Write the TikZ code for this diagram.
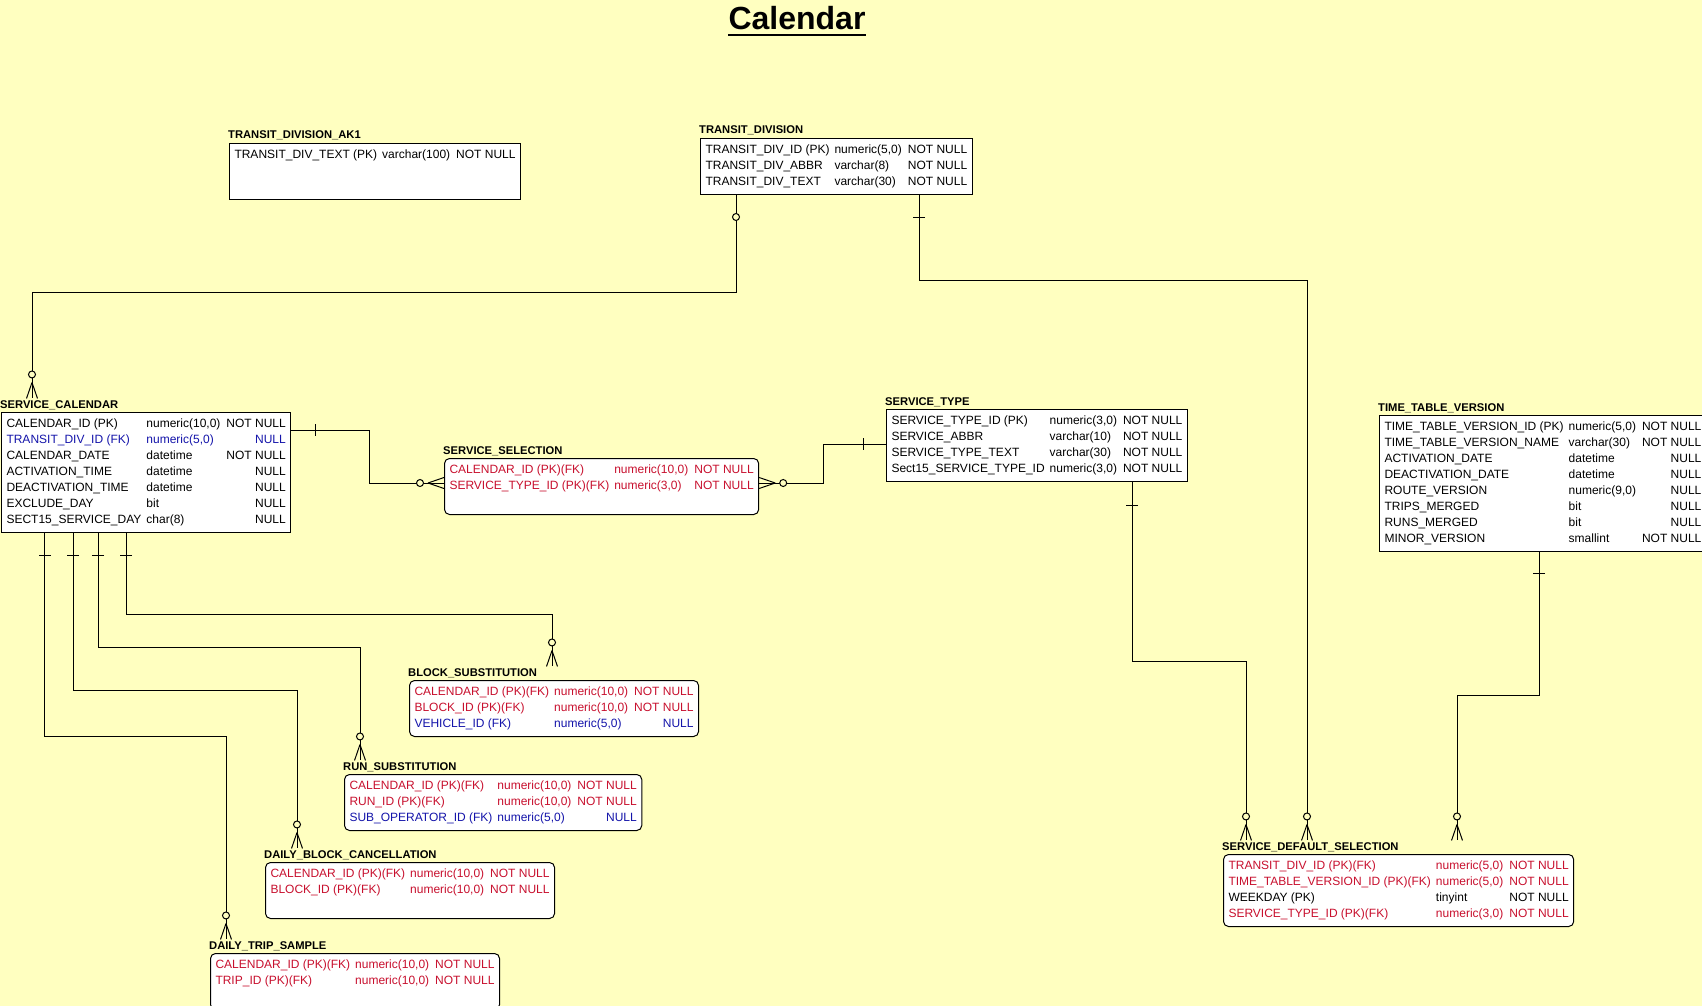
\documentclass[tikz,border=0pt]{standalone}
\usepackage{fontspec}
\setmainfont{Liberation Sans}
\usepackage{tikz}

\definecolor{bgyellow}{RGB}{255,255,192}
\definecolor{pkred}{RGB}{200,16,46}
\definecolor{fkblue}{RGB}{20,20,170}

\newcommand{\redrow}[3]{\textcolor{pkred}{#1} & \textcolor{pkred}{#2} & \textcolor{pkred}{#3}}
\newcommand{\bluerow}[3]{\textcolor{fkblue}{#1} & \textcolor{fkblue}{#2} & \textcolor{fkblue}{#3}}
\newenvironment{attrs}{\begin{tabular}{@{}l@{\hspace{5pt}}l@{\hspace{6pt}}r@{}}}{\end{tabular}}

\tikzset{
  tbl/.style={draw, fill=white, line width=1pt, anchor=north west, inner xsep=5pt, inner ysep=4pt, font=\fontsize{12}{16}\selectfont},
  deptbl/.style={tbl, rounded corners=5pt},
  hdr/.style={anchor=base west, inner xsep=0pt, inner ysep=1.5pt, xshift=-1pt, yshift=4pt, font=\fontsize{11.2}{13}\selectfont\bfseries},
  rel/.style={line width=1pt},
  many/.pic={\draw[rel] (-16,0) -- (0,-5.5) (-16,0) -- (0,5.5); \draw[rel, fill=bgyellow] (-24,0) circle (3.5);},
  one/.pic={\draw[rel] (0,-6) -- (0,6);},
  opt/.pic={\draw[rel, fill=bgyellow] (0,0) circle (3.5);},
}

\begin{document}
\begin{tikzpicture}[x=1pt, y=-1pt]
\useasboundingbox[fill=bgyellow] (0,0) rectangle (1702,1006);

\node[anchor=base, inner sep=0pt, font=\fontsize{32}{36}\selectfont\bfseries] (title) at (797,30) {Calendar};
\draw[line width=2.2pt] ([yshift=-5pt]title.base west) -- ([yshift=-5pt]title.base east);

% parent tables
\node[tbl] (ak) at (229,143) {\begin{attrs}
TRANSIT\_DIV\_TEXT (PK) & varchar(100) & NOT NULL\\
 & & \\
 & &
\end{attrs}};
\node[hdr] (akh) at (ak.north west) {TRANSIT\_DIVISION\_AK1};

\node[tbl] (td) at (700,138) {\begin{attrs}
TRANSIT\_DIV\_ID (PK) & numeric(5,0) & NOT NULL\\
TRANSIT\_DIV\_ABBR & varchar(8) & NOT NULL\\
TRANSIT\_DIV\_TEXT & varchar(30) & NOT NULL
\end{attrs}};
\node[hdr] (tdh) at (td.north west) {TRANSIT\_DIVISION};

\node[tbl] (cal) at (1,412) {\begin{attrs}
CALENDAR\_ID (PK) & numeric(10,0) & NOT NULL\\
\bluerow{TRANSIT\_DIV\_ID (FK)}{numeric(5,0)}{NULL}\\
CALENDAR\_DATE & datetime & NOT NULL\\
ACTIVATION\_TIME & datetime & NULL\\
DEACTIVATION\_TIME & datetime & NULL\\
EXCLUDE\_DAY & bit & NULL\\
SECT15\_SERVICE\_DAY & char(8) & NULL
\end{attrs}};
\node[hdr] (calh) at (cal.north west) {SERVICE\_CALENDAR};

\node[tbl] (st) at (886,409) {\begin{attrs}
SERVICE\_TYPE\_ID (PK) & numeric(3,0) & NOT NULL\\
SERVICE\_ABBR & varchar(10) & NOT NULL\\
SERVICE\_TYPE\_TEXT & varchar(30) & NOT NULL\\
Sect15\_SERVICE\_TYPE\_ID & numeric(3,0) & NOT NULL
\end{attrs}};
\node[hdr] (sth) at (st.north west) {SERVICE\_TYPE};

\node[tbl] (ttv) at (1379,415) {\begin{attrs}
TIME\_TABLE\_VERSION\_ID (PK) & numeric(5,0) & NOT NULL\\
TIME\_TABLE\_VERSION\_NAME & varchar(30) & NOT NULL\\
ACTIVATION\_DATE & datetime & NULL\\
DEACTIVATION\_DATE & datetime & NULL\\
ROUTE\_VERSION & numeric(9,0) & NULL\\
TRIPS\_MERGED & bit & NULL\\
RUNS\_MERGED & bit & NULL\\
MINOR\_VERSION & smallint & NOT NULL
\end{attrs}};
\node[hdr] (ttvh) at (ttv.north west) {TIME\_TABLE\_VERSION};

% dependent tables
\node[deptbl] (ss) at (444,458) {\begin{attrs}
\redrow{CALENDAR\_ID (PK)(FK)}{numeric(10,0)}{NOT NULL}\\
\redrow{SERVICE\_TYPE\_ID (PK)(FK)}{numeric(3,0)}{NOT NULL}\\
 & &
\end{attrs}};
\node[hdr] (ssh) at (ss.north west) {SERVICE\_SELECTION};

\node[deptbl] (bs) at (409,680) {\begin{attrs}
\redrow{CALENDAR\_ID (PK)(FK)}{numeric(10,0)}{NOT NULL}\\
\redrow{BLOCK\_ID (PK)(FK)}{numeric(10,0)}{NOT NULL}\\
\bluerow{VEHICLE\_ID (FK)}{numeric(5,0)}{NULL}
\end{attrs}};
\node[hdr] (bsh) at (bs.north west) {BLOCK\_SUBSTITUTION};

\node[deptbl] (rs) at (344,774) {\begin{attrs}
\redrow{CALENDAR\_ID (PK)(FK)}{numeric(10,0)}{NOT NULL}\\
\redrow{RUN\_ID (PK)(FK)}{numeric(10,0)}{NOT NULL}\\
\bluerow{SUB\_OPERATOR\_ID (FK)}{numeric(5,0)}{NULL}
\end{attrs}};
\node[hdr] (rsh) at (rs.north west) {RUN\_SUBSTITUTION};

\node[deptbl] (dbc) at (265,862) {\begin{attrs}
\redrow{CALENDAR\_ID (PK)(FK)}{numeric(10,0)}{NOT NULL}\\
\redrow{BLOCK\_ID (PK)(FK)}{numeric(10,0)}{NOT NULL}\\
 & &
\end{attrs}};
\node[hdr] (dbch) at (dbc.north west) {DAILY\_BLOCK\_CANCELLATION};

\node[deptbl] (dts) at (210,953) {\begin{attrs}
\redrow{CALENDAR\_ID (PK)(FK)}{numeric(10,0)}{NOT NULL}\\
\redrow{TRIP\_ID (PK)(FK)}{numeric(10,0)}{NOT NULL}\\
 & &
\end{attrs}};
\node[hdr] (dtsh) at (dts.north west) {DAILY\_TRIP\_SAMPLE};

\node[deptbl] (sds) at (1223,854) {\begin{attrs}
\redrow{TRANSIT\_DIV\_ID (PK)(FK)}{numeric(5,0)}{NOT NULL}\\
\redrow{TIME\_TABLE\_VERSION\_ID (PK)(FK)}{numeric(5,0)}{NOT NULL}\\
WEEKDAY (PK) & tinyint & NOT NULL\\
\redrow{SERVICE\_TYPE\_ID (PK)(FK)}{numeric(3,0)}{NOT NULL}
\end{attrs}};
\node[hdr] (sdsh) at (sds.north west) {SERVICE\_DEFAULT\_SELECTION};

% relationships
\draw[rel] (td.south -| 736,0) |- (32,292) -- (calh.north -| 32,0);
\draw[rel] (td.south -| 919,0) |- (1307,280) -- (sdsh.north -| 1307,0);
\draw[rel] (cal.east |- 0,430) -| (369,483) -- (ss.west |- 0,483);
\draw[rel] (st.west |- 0,444) -| (823,483) -- (ss.east |- 0,483);
\draw[rel] (st.south -| 1132,0) |- (1246,661) -- (sdsh.north -| 1246,0);
\draw[rel] (ttv.south -| 1539,0) |- (1457,695) -- (sdsh.north -| 1457,0);
\draw[rel] (cal.south -| 126,0) |- (552,614) -- (bsh.north -| 552,0);
\draw[rel] (cal.south -| 98,0) |- (360,647) -- (rsh.north -| 360,0);
\draw[rel] (cal.south -| 73,0) |- (297,690) -- (dbch.north -| 297,0);
\draw[rel] (cal.south -| 44.5,0) |- (226,736) -- (dtsh.north -| 226,0);

% ends
\pic at (736,217) {opt};
\pic[rotate=-90] at (calh.north -| 32,0) {many};
\pic[rotate=-90] at (919,217) {one};
\pic[rotate=-90] at (sdsh.north -| 1307,0) {many};
\pic at (315,430) {one};
\pic at (ss.west |- 0,483) {many};
\pic at (863,444) {one};
\pic[rotate=180] at (ss.east |- 0,483) {many};
\pic[rotate=-90] at (1132,505) {one};
\pic[rotate=-90] at (sdsh.north -| 1246,0) {many};
\pic[rotate=-90] at (1539,573) {one};
\pic[rotate=-90] at (sdsh.north -| 1457,0) {many};
\foreach \x in {44.5,73,98,126}
  \pic[rotate=-90] at (\x,555) {one};
\pic[rotate=-90] at (bsh.north -| 552,0) {many};
\pic[rotate=-90] at (rsh.north -| 360,0) {many};
\pic[rotate=-90] at (dbch.north -| 297,0) {many};
\pic[rotate=-90] at (dtsh.north -| 226,0) {many};

\end{tikzpicture}
\end{document}
